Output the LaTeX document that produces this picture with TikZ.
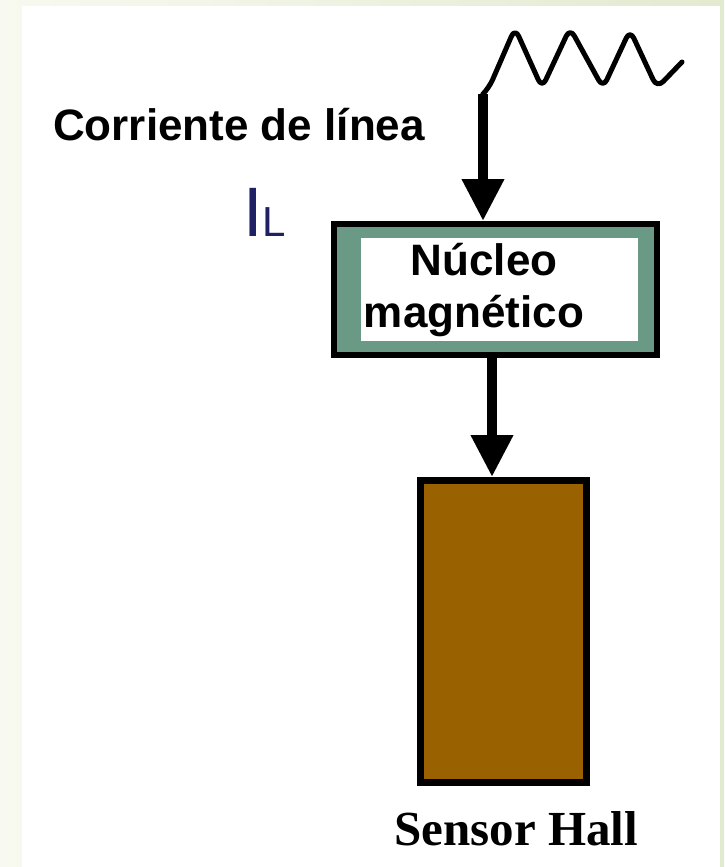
\documentclass[tikz,border=0pt]{standalone}
\usepackage{fontspec}
\usepackage{tikz}
\usetikzlibrary{arrows.meta,shapes,positioning}
\usepackage{xcolor}
\newfontfamily\arialfont{Liberation Sans}
\newfontfamily\timesfont{Liberation Serif}
\definecolor{hsgreen}{RGB}{106,154,134}
\definecolor{hsbrown}{RGB}{153,97,0}
\definecolor{hsnavy}{RGB}{32,32,100}
\definecolor{hsbandL}{RGB}{248,249,240}
\definecolor{hsbandR}{RGB}{226,234,208}
\tikzstyle{flowarrow} = [line width=10pt,-{Triangle[width=40pt,length=42pt]}]
\tikzstyle{corebox} = [rectangle, draw=black, line width=6pt, fill=hsgreen, inner sep=0pt, minimum width=323pt, minimum height=131pt]
\tikzstyle{sensorbox} = [rectangle, draw=black, line width=7pt, fill=hsbrown, inner sep=0pt, minimum width=166pt, minimum height=302pt]
\tikzstyle{lbl} = [inner sep=0pt, font=\arialfont\bfseries\fontsize{44}{52}\selectfont]

\begin{document}
\begin{tikzpicture}[x=1pt, y=-1pt]
% Background
\shade[left color=hsbandL, right color=hsbandR] (0,0) rectangle (724,867);
\fill[white] (22,6) rectangle (720,867);
\useasboundingbox (0,0) rectangle (724,867);

% Magnetic core
\node (core) [corebox] at (495.5,289.5) {};
\node (coreface) [fill=white, inner sep=0pt, minimum width=277pt, minimum height=103pt] at (499.5,289.5) {};
\node (corelbl) [lbl, align=center] at (474,290) {\hspace*{20pt}Núcleo\\magnético};

% Hall sensor
\node (sensor) [sensorbox] at (503.5,631.5) {};
\node (sensorlbl) [anchor=base west, inner sep=0pt, font=\timesfont\bfseries\fontsize{49}{49}\selectfont] at (394,845) {Sensor Hall};

% Line current
\coordinate (src) at (483,94);
\draw[line width=5pt, line join=round, line cap=round, rounded corners=9pt]
  (src) -- (489,88) -- (515,28) -- (542,88) -- (570,28) -- (603,88) -- (630,30) -- (657,88) -- (682,62);
\node (linelbl) [lbl, anchor=base west] at (53,140) {Corriente de línea};
\node (currlbl) [anchor=base west, inner sep=0pt, text=hsnavy] at (243,236)
  {\arialfont{\fontsize{70}{70}\selectfont I}{\fontsize{42}{42}\selectfont L}};

% Arrows
\draw[flowarrow] (src) -- ([xshift=-12.5pt]core.north);
\draw[flowarrow] ([xshift=-3.5pt]core.south) -- ([xshift=-11.5pt]sensor.north);
\end{tikzpicture}
\end{document}
